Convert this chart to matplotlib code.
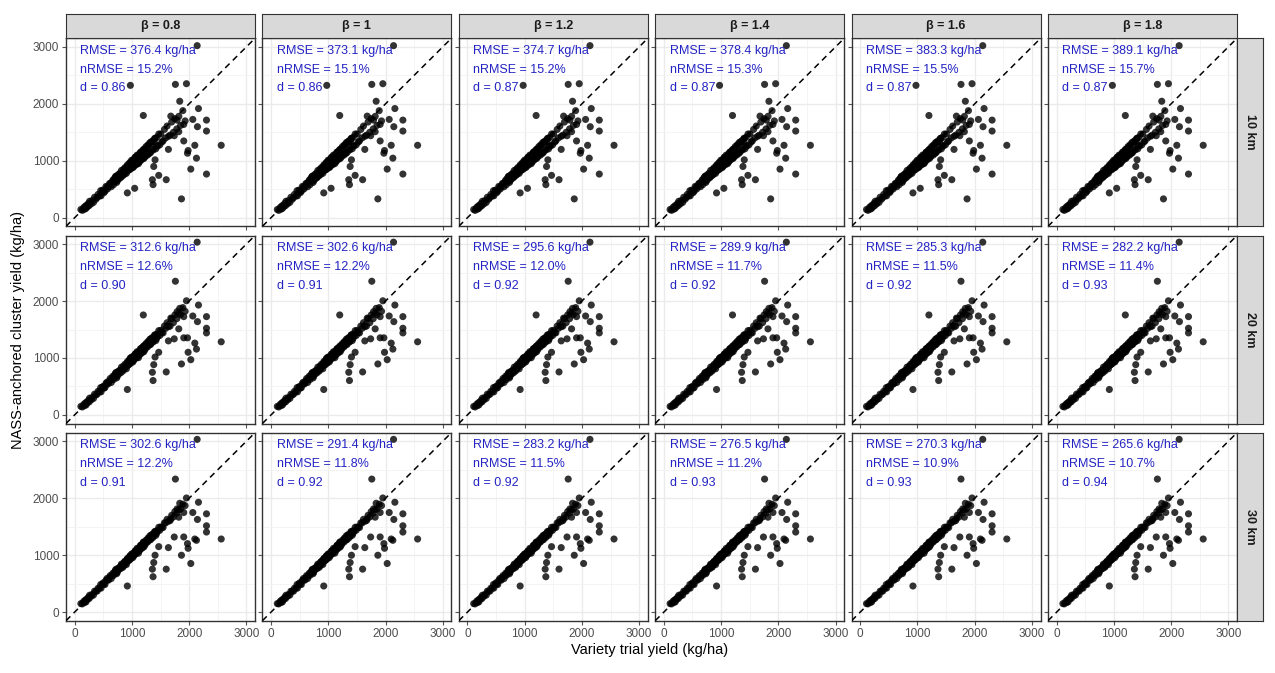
import matplotlib
matplotlib.use("Agg")
import matplotlib.pyplot as plt

plt.rcParams["font.family"] = ["Liberation Sans", "DejaVu Sans"]

betas = ["0.8", "1", "1.2", "1.4", "1.6", "1.8"]
radii = ["10 km", "20 km", "30 km"]

# RMSE (kg/ha), nRMSE (%), d per panel: rows = radius, cols = beta
rmse = [[376.4, 373.1, 374.7, 378.4, 383.3, 389.1],
        [312.6, 302.6, 295.6, 289.9, 285.3, 282.2],
        [302.6, 291.4, 283.2, 276.5, 270.3, 265.6]]
nrmse = [[15.2, 15.1, 15.2, 15.3, 15.5, 15.7],
         [12.6, 12.2, 12.0, 11.7, 11.5, 11.4],
         [12.2, 11.8, 11.5, 11.2, 10.9, 10.7]]
dval = [[0.86, 0.86, 0.87, 0.87, 0.87, 0.87],
        [0.90, 0.91, 0.92, 0.92, 0.92, 0.93],
        [0.91, 0.92, 0.92, 0.93, 0.93, 0.94]]

# variety trial yield (same trials in every panel)
trial = [110, 135, 160, 175, 188, 200, 212, 226, 240, 255,
         262, 290, 305, 330, 348, 372, 395, 410, 438, 455,
         462, 488, 500, 512, 530, 548, 566, 575, 592, 610,
         622, 640, 655, 668, 680, 695, 710, 722, 735, 748,
         760, 772, 790, 805, 818, 826, 842, 855, 866, 880,
         892, 905, 912, 925, 938, 950, 958, 970, 984, 996,
         1008, 1018, 1030, 1042, 1055, 1066, 1078, 1090, 1102, 1115,
         1128, 1136, 1150, 1162, 1175, 1188, 1196, 1210, 1222, 1236,
         1248, 1262, 1275, 1288, 1300, 1316, 1330, 1345, 1360, 1372,
         1390, 1405, 1418, 1435, 1452, 1470, 1488, 1505, 1525, 1545,
         1568, 1590, 1615, 1640, 1668, 1695, 1725, 1750, 1785, 1820,
         1850, 1890, 1930,
         715, 745, 785, 812, 848, 872, 898, 920, 944, 965, 990, 1012, 1036, 1060,
         1084, 1108, 1132, 1158, 1182, 1205, 1230, 1255, 1282, 1310, 1338, 1368, 1398, 1430,
         2140, 1760, 974, 1953, 2163, 1836, 1200, 1680, 2064, 2303, 1790, 1906, 2145, 2303,
         1819, 1906, 2560, 2099, 1971, 2128, 1405, 2029, 2303, 1469, 1600, 1358, 1370, 1049,
         921, 1866, 1382, 1740, 1638, 1982]

# NASS-anchored cluster yield, 10 km radius
clus_10 = [145, 130, 180, 150, 205, 165, 220, 195, 250, 215,
           290, 245, 300, 270, 360, 325, 355, 410, 385, 475,
           385, 485, 470, 440, 465, 550, 540, 505, 540, 600,
           600, 545, 630, 660, 580, 690, 640, 730, 620, 720,
           755, 680, 780, 705, 830, 750, 740, 850, 760, 880,
           800, 780, 900, 930, 830, 920, 950, 850, 960, 1010,
           890, 880, 1020, 940, 1060, 930, 1050, 1100, 970, 950,
           1110, 1020, 1150, 1010, 1150, 1180, 1050, 1040, 1210, 1090,
           1250, 1120, 1100, 1270, 1140, 1320, 1150, 1310, 1350, 1190,
           1340, 1395, 1210, 1410, 1260, 1470, 1280, 1470, 1330, 1350,
           1550, 1400, 1610, 1430, 1450, 1680, 1500, 1740, 1560, 1780,
           1620, 1880, 1700,
           720, 650, 760, 720, 790, 800, 845, 900, 840, 970, 870, 1000, 900, 1060,
           940, 1090, 980, 1150, 1040, 1200, 1070, 1220, 1280, 1130, 1330, 1200, 1390, 1260,
           3021, 2341, 2324, 2353, 1917, 2045, 1795, 1784, 1726, 1714, 1714, 1638, 1598, 1522,
           1511, 1348, 1272, 1272, 1133, 1046, 1017, 854, 767, 744, 668, 668, 581, 517,
           436, 331, 900, 1440, 1200, 1180]

# NASS-anchored cluster yield, 20 km radius
clus_20 = [150, 140, 185, 165, 210, 175, 225, 215, 255, 230,
           295, 265, 305, 290, 365, 350, 365, 415, 410, 480,
           405, 490, 500, 470, 480, 555, 575, 540, 555, 600,
           640, 570, 635, 680, 620, 695, 670, 745, 650, 735,
           765, 720, 785, 740, 840, 790, 770, 855, 810, 890,
           850, 810, 905, 940, 880, 935, 960, 900, 975, 1015,
           955, 930, 1030, 1000, 1065, 995, 1065, 1110, 1040, 1005,
           1120, 1085, 1160, 1080, 1160, 1190, 1125, 1110, 1220, 1175,
           1255, 1210, 1195, 1280, 1235, 1330, 1240, 1325, 1360, 1290,
           1360, 1400, 1305, 1420, 1380, 1480, 1395, 1485, 1445, 1440,
           1560, 1520, 1620, 1550, 1560, 1690, 1620, 1755, 1690, 1790,
           1760, 1885, 1820,
           730, 680, 765, 790, 800, 850, 855, 910, 880, 980, 925, 1010, 965, 1070,
           1010, 1100, 1050, 1165, 1100, 1210, 1150, 1235, 1290, 1230, 1340, 1280, 1405, 1340,
           3033, 2347, 1000, 2004, 1929, 1871, 1755, 1700, 1737, 1726, 1813, 1726, 1638, 1522,
           1511, 1354, 1284, 1261, 1354, 1156, 1017, 970, 1440, 1100, 755, 749, 604, 1000,
           447, 895, 883, 1336, 1300, 1100]

# NASS-anchored cluster yield, 30 km radius
clus_30 = [150, 145, 190, 170, 213, 180, 227, 226, 260, 240,
           297, 280, 310, 300, 368, 367, 370, 420, 423, 485,
           422, 493, 515, 492, 485, 558, 591, 565, 562, 610,
           642, 590, 640, 683, 645, 700, 690, 752, 675, 738,
           770, 747, 790, 765, 843, 811, 787, 860, 836, 895,
           872, 835, 912, 945, 903, 940, 968, 925, 979, 1021,
           983, 958, 1035, 1027, 1070, 1026, 1073, 1120, 1072, 1035,
           1128, 1116, 1170, 1112, 1165, 1198, 1161, 1145, 1227, 1211,
           1263, 1247, 1230, 1288, 1270, 1341, 1275, 1335, 1370, 1332,
           1370, 1410, 1348, 1430, 1422, 1490, 1438, 1495, 1490, 1485,
           1568, 1565, 1630, 1595, 1608, 1700, 1670, 1765, 1740, 1800,
           1810, 1895, 1870,
           735, 700, 770, 820, 805, 880, 860, 930, 905, 985, 950, 1020, 995, 1075,
           1040, 1110, 1080, 1175, 1130, 1220, 1180, 1240, 1300, 1265, 1350, 1310, 1415, 1380,
           3033, 2336, 990, 2004, 1929, 1911, 1230, 1638, 1749, 1726, 1813, 1749, 1627, 1516,
           1667, 1320, 1284, 1284, 1203, 1261, 999, 854, 1406, 1150, 755, 755, 622, 1010,
           459, 999, 871, 1319, 1133, 1121]

clusters = [clus_10, clus_20, clus_30]

W, H = 1275, 673
fig = plt.figure(figsize=(W / 100, H / 100), dpi=100)


def px(x0, y0, w, h):
    return [x0 / W, 1 - (y0 + h) / H, w / W, h / H]


lim = (-150, 3150)
pw, ph = 189, 188
blue = "#2424C4"
edge = "#333333"

for r in range(3):
    for c in range(6):
        left = 66 + c * 196.4
        top = 38.3 + r * 197.2
        ax = fig.add_axes(px(left, top, pw, ph))
        ax.set_xlim(lim)
        ax.set_ylim(lim)
        ax.set_xticks([0, 1000, 2000, 3000])
        ax.set_yticks([0, 1000, 2000, 3000])
        ax.set_xticks([500, 1500, 2500], minor=True)
        ax.set_yticks([500, 1500, 2500], minor=True)
        ax.grid(which="major", color="#EBEBEB", lw=1.0)
        ax.grid(which="minor", color="#F3F3F3", lw=0.6)
        ax.set_axisbelow(True)
        for s in ax.spines.values():
            s.set_color(edge)
            s.set_linewidth(1.0)
        ax.tick_params(which="major", length=3, color="#555555", labelsize=8.5,
                       labelcolor="#4D4D4D", pad=2)
        ax.tick_params(which="minor", length=0)
        if r < 2:
            ax.tick_params(axis="x", labelbottom=False)
        if c > 0:
            ax.tick_params(axis="y", labelleft=False)

        ax.scatter(trial, clusters[r], s=26, color="black", alpha=0.8,
                   edgecolors="none", zorder=3)
        ax.axline((0, 0), slope=1, color="black", lw=1.1, ls=(0, (4, 3)), zorder=4)

        ax.text(100, 2930, f"RMSE = {rmse[r][c]:.1f} kg/ha", color=blue,
                fontsize=9, va="center", ha="left", zorder=5)
        ax.text(100, 2600, f"nRMSE = {nrmse[r][c]:.1f}%", color=blue,
                fontsize=9, va="center", ha="left", zorder=5)
        ax.text(100, 2270, f"d = {dval[r][c]:.2f}", color=blue,
                fontsize=9, va="center", ha="left", zorder=5)

        if r == 0:
            sax = fig.add_axes(px(left, 13.5, pw, 24.8))
            sax.set_xticks([])
            sax.set_yticks([])
            sax.set_facecolor("#D9D9D9")
            for s in sax.spines.values():
                s.set_color(edge)
            sax.text(0.5, 0.5, f"β = {betas[c]}", transform=sax.transAxes,
                     ha="center", va="center", fontsize=9, fontweight="bold",
                     color="#1A1A1A")
        if c == 5:
            sax = fig.add_axes(px(left + pw, top, 26, ph))
            sax.set_xticks([])
            sax.set_yticks([])
            sax.set_facecolor("#D9D9D9")
            for s in sax.spines.values():
                s.set_color(edge)
            sax.text(0.5, 0.5, radii[r], transform=sax.transAxes, rotation=-90,
                     ha="center", va="center", fontsize=9, fontweight="bold",
                     color="#1A1A1A")

fig.text(650 / W, 1 - 650 / H, "Variety trial yield (kg/ha)", ha="center", va="center",
         fontsize=10.5)
fig.text(18 / W, 1 - 330 / H, "NASS-anchored cluster yield (kg/ha)", ha="center",
         va="center", rotation=90, fontsize=10.5)

fig.savefig("out.png", dpi=100)
